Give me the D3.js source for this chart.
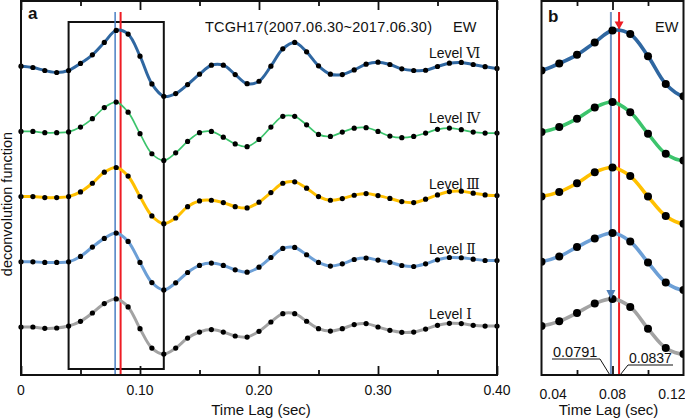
<!DOCTYPE html>
<html><head><meta charset="utf-8">
<script src="https://cdn.jsdelivr.net/npm/d3@7"></script>
<style>
body{margin:0;background:#fff}
svg{display:block}
text{font-family:Arial,"Liberation Sans",sans-serif;fill:#111}
</style>
</head><body>
<svg id="c" width="685" height="420"></svg>
<script>
// ---------- data ----------
const lags = [0.00,0.01,0.02,0.03,0.04,0.05,0.06,0.07,0.08,0.09,0.10,0.11,0.12,0.13,0.14,0.15,0.16,0.17,0.18,0.19,0.20,
              0.21,0.22,0.23,0.24,0.25,0.26,0.27,0.28,0.29,0.30,0.31,0.32,0.33,0.34,0.35,0.36,0.37,0.38,0.39,0.40];
const levelVI  = [0,-0.02,-0.066,-0.097,-0.066,0.042,0.174,0.364,0.549,0.492,0.154,-0.272,-0.462,-0.420,-0.282,-0.123,0.015,0.015,-0.128,-0.269,-0.231,
                  0,0.266,0.364,0.220,0.005,-0.123,-0.128,-0.057,0.031,0.062,0.026,-0.041,-0.066,-0.062,-0.005,0.046,0.057,0.026,-0.008,-0.035];
const levelIV  = [0,0,-0.02,-0.02,-0.008,0.066,0.195,0.365,0.449,0.295,-0.035,-0.343,-0.446,-0.328,-0.154,-0.02,0,-0.088,-0.192,-0.234,-0.123,
                  0.066,0.231,0.231,0.10,-0.046,-0.077,-0.011,0.049,0.057,0,-0.072,-0.097,-0.077,-0.026,0.031,0.051,0.026,-0.011,-0.026,-0.026];
const levelIII = [0,0,-0.015,-0.015,0,0.072,0.205,0.374,0.446,0.314,0,-0.297,-0.415,-0.328,-0.154,-0.066,-0.056,-0.092,-0.154,-0.174,-0.086,
                  0.062,0.205,0.226,0.129,0,-0.056,-0.031,0.021,0.046,0.015,-0.028,-0.077,-0.092,-0.040,0.026,0.077,0.083,0.052,0.026,0.015];
const levelII  = [0,0,-0.01,-0.01,0,0.082,0.226,0.359,0.441,0.312,-0.01,-0.318,-0.431,-0.323,-0.164,-0.056,-0.020,-0.056,-0.123,-0.159,-0.082,
                  0.066,0.205,0.220,0.108,-0.01,-0.066,-0.031,0.035,0.057,0.026,-0.008,-0.057,-0.072,-0.031,0.031,0.066,0.062,0.041,0.02,0.02];
const levelI   = [0,0,-0.02,-0.015,0.015,0.087,0.215,0.359,0.431,0.308,-0.025,-0.323,-0.415,-0.323,-0.169,-0.077,-0.04,-0.077,-0.138,-0.154,-0.066,
                  0.077,0.205,0.205,0.088,-0.025,-0.062,-0.025,0.037,0.052,0,-0.051,-0.082,-0.077,-0.031,0.026,0.057,0.052,0.026,0.015,0.015];
const levelWord    = "Level";
const levelNumerals = ["Ⅵ","Ⅳ","Ⅲ","Ⅱ","Ⅰ"];
const levelOffsets = [4,3,2,1,0];
const levelSeries  = [levelVI, levelIV, levelIII, levelII, levelI];
const levelColors  = ["#2f67a1","#3cc46c","#ffc000","#6c9fd6","#a3a3a3"];
const ticksMajorA = [0,0.10,0.20,0.30,0.40];
const ticksMinorA = [0.05,0.15,0.25,0.35];
const tickLabelsA = ["0","0.10","0.20","0.30","0.40"];
const ticksMajorB = [0.08];
const ticksMinorB = [0.06,0.10];
const tickValsB   = [0.04,0.08,0.12];
const tickLabelsB = ["0.04","0.08","0.12"];
const boxRange = [0.04,0.12];
const blueLag = 0.0791, redLag = 0.0837;
const title = "TCGH17(2007.06.30~2017.06.30)";
const comp = "EW";

// ---------- scales ----------
const svg = d3.select("#c");
const top0 = 1, bot = 375;
const xa = d3.scaleLinear().domain([0,0.40]).range([21,497]);
const xb = d3.scaleLinear().domain([0.04,0.12]).range([541.5,683.5]);
const y  = d3.scaleLinear().domain([-0.736,5.015]).range([bot,0]);

const series = levelSeries.map((s,k)=>({num:levelNumerals[k],off:levelOffsets[k],color:levelColors[k],
  pts:s.map((v,i)=>({t:lags[i],v:v}))}));

function ticks(g, x, major, minor){
  const yb = bot;
  g.append("g").attr("transform",`translate(0,${yb})`).call(d3.axisTop(x).tickValues(major).tickSize(9).tickFormat(""))
   .call(a=>a.select(".domain").remove());
  g.append("g").attr("transform",`translate(0,${yb})`).call(d3.axisTop(x).tickValues(minor).tickSize(5).tickFormat(""))
   .call(a=>a.select(".domain").remove());
  g.append("g").attr("transform",`translate(0,${top0})`).call(d3.axisBottom(x).tickValues(major).tickSize(9).tickFormat(""))
   .call(a=>a.select(".domain").remove());
  g.append("g").attr("transform",`translate(0,${top0})`).call(d3.axisBottom(x).tickValues(minor).tickSize(5).tickFormat(""))
   .call(a=>a.select(".domain").remove());
  g.selectAll(".tick line").attr("stroke","#111").attr("stroke-width",1.8);
}

const defs = svg.append("defs");
defs.append("clipPath").attr("id","ca").append("rect")
  .attr("x",xa.range()[0]).attr("y",0).attr("width",xa.range()[1]-xa.range()[0]).attr("height",bot);
defs.append("clipPath").attr("id","cb").append("rect")
  .attr("x",xb.range()[0]).attr("y",0).attr("width",xb.range()[1]-xb.range()[0]).attr("height",bot);

// ---------- panel a ----------
const ga = svg.append("g");
ticks(ga, xa, ticksMajorA, ticksMinorA);
ga.append("rect").attr("x",xa(boxRange[0])).attr("y",22).attr("width",xa(boxRange[1])-xa(boxRange[0])).attr("height",369-22)
  .attr("fill","none").attr("stroke","#111").attr("stroke-width",2);
ga.append("line").attr("x1",xa(blueLag)).attr("x2",xa(blueLag)).attr("y1",12).attr("y2",bot).attr("stroke","#4a7fc4").attr("stroke-width",1.5);
ga.append("line").attr("x1",xa(redLag)).attr("x2",xa(redLag)).attr("y1",12).attr("y2",bot).attr("stroke","#ee1c24").attr("stroke-width",2);

const lineA = off => d3.line().x(d=>xa(d.t)).y(d=>y(d.v+off)).curve(d3.curveCatmullRom.alpha(0.5));
const ca = ga.append("g").attr("clip-path","url(#ca)");
series.forEach((s,k)=>{
  ca.append("path").attr("d",lineA(s.off)(s.pts)).attr("fill","none").attr("stroke",s.color)
    .attr("stroke-width", k===1?1.7:3).attr("stroke-linecap","round");
});
series.forEach(s=>{
  ga.selectAll(null).data(s.pts).join("circle").attr("cx",d=>xa(d.t)).attr("cy",d=>y(d.v+s.off)).attr("r",2.6).attr("fill","#000");
});
series.forEach(s=>{
  const t = ga.append("text").attr("x",429).attr("y",y(s.off)-8).attr("font-size",14);
  t.append("tspan").text(levelWord+" ");
  t.append("tspan").attr("font-family","'DejaVu Serif','Liberation Serif',serif").attr("font-size",14).text(s.num);
});
ga.append("rect").attr("x",xa.range()[0]).attr("y",top0).attr("width",xa.range()[1]-xa.range()[0]).attr("height",bot-top0)
  .attr("fill","none").attr("stroke","#111").attr("stroke-width",2);
ga.selectAll(null).data(ticksMajorA).join("text").attr("x",d=>xa(d)).attr("y",395).attr("text-anchor","middle")
  .attr("font-size",14).text((d,i)=>tickLabelsA[i]);
ga.append("text").attr("x",(xa.range()[0]+xa.range()[1])/2+2).attr("y",415).attr("text-anchor","middle").attr("font-size",15).text("Time Lag (sec)");
ga.append("text").attr("x",28).attr("y",19).attr("font-size",17).attr("font-weight","bold").text("a");
ga.append("text").attr("x",205).attr("y",32).attr("font-size",14.5).attr("textLength",227).text(title);
ga.append("text").attr("x",453).attr("y",32).attr("font-size",14.5).text(comp);
svg.append("text").attr("transform","translate(12,204) rotate(-90)").attr("text-anchor","middle").attr("font-size",14.5).text("deconvolution function");

// ---------- panel b ----------
const gb = svg.append("g");
ticks(gb, xb, ticksMajorB, ticksMinorB);
gb.append("line").attr("x1",xb(blueLag)).attr("x2",xb(blueLag)).attr("y1",12).attr("y2",bot).attr("stroke","#7094c4").attr("stroke-width",2);
gb.append("line").attr("x1",xb(redLag)).attr("x2",xb(redLag)).attr("y1",12).attr("y2",bot).attr("stroke","#ee1c24").attr("stroke-width",2);
const lineB = off => d3.line().x(d=>xb(d.t)).y(d=>y(d.v+off)).curve(d3.curveCatmullRom.alpha(0.5));
const cb = gb.append("g").attr("clip-path","url(#cb)");
series.forEach(s=>{
  cb.append("path").attr("d",lineB(s.off)(s.pts)).attr("fill","none").attr("stroke",s.color).attr("stroke-width",3.6);
});
series.forEach(s=>{
  cb.selectAll(null).data(s.pts.filter(d=>d.t>=0.0399&&d.t<=0.1201)).join("circle")
    .attr("cx",d=>xb(d.t)).attr("cy",d=>y(d.v+s.off)).attr("r",4).attr("fill","#000");
});
const peakTop = y(levelVI[lags.indexOf(0.08)]+levelOffsets[0]);
const peakBot = y(levelI[lags.indexOf(0.08)]+levelOffsets[4]);
gb.append("path").attr("d",`M${xb(redLag)-4.5},${peakTop-9}L${xb(redLag)+4.5},${peakTop-9}L${xb(redLag)},${peakTop-1}Z`).attr("fill","#ee1c24");
gb.append("path").attr("d",`M${xb(blueLag)-4.5},${peakBot-9}L${xb(blueLag)+4.5},${peakBot-9}L${xb(blueLag)},${peakBot}Z`).attr("fill","#4f7fb8");
gb.append("text").attr("x",553).attr("y",357).attr("font-size",14.5).text(blueLag.toFixed(4));
gb.append("path").attr("d",`M552,359L600,359L${xb(blueLag)-1},${bot}`).attr("fill","none").attr("stroke","#111").attr("stroke-width",1);
gb.append("text").attr("x",629).attr("y",363).attr("font-size",14).text(redLag.toFixed(4));
gb.append("path").attr("d",`M673,365L628,365L${xb(redLag)+1},${bot}`).attr("fill","none").attr("stroke","#111").attr("stroke-width",1);
gb.append("rect").attr("x",xb.range()[0]).attr("y",top0).attr("width",xb.range()[1]-xb.range()[0]).attr("height",bot-top0)
  .attr("fill","none").attr("stroke","#111").attr("stroke-width",2);
gb.selectAll(null).data(tickValsB).join("text")
  .attr("x",(d,i)=> i===0 ? xb(d)-2 : i===tickValsB.length-1 ? xb(d)+2 : xb(d))
  .attr("y",399).attr("font-size",14)
  .attr("text-anchor",(d,i)=> i===0?"start": i===tickValsB.length-1?"end":"middle")
  .text((d,i)=>tickLabelsB[i]);
gb.append("text").attr("x",(xb.range()[0]+xb.range()[1])/2-4).attr("y",415).attr("text-anchor","middle").attr("font-size",15).text("Time Lag (sec)");
gb.append("text").attr("x",548).attr("y",22).attr("font-size",17).attr("font-weight","bold").text("b");
gb.append("text").attr("x",655).attr("y",32).attr("font-size",14.5).text(comp);
</script>
</body></html>
